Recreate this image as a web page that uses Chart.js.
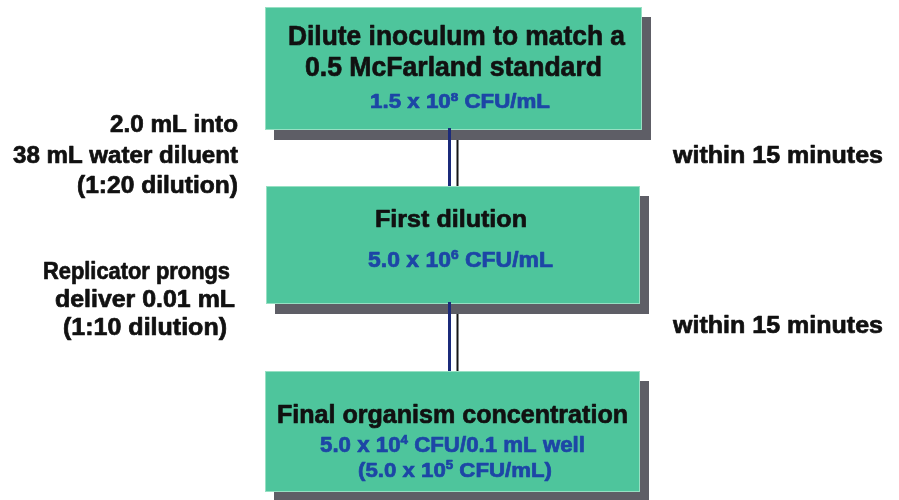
<!DOCTYPE html>
<html><head><meta charset="utf-8">
<script src="https://cdn.jsdelivr.net/npm/chart.js@4"></script>
<style>html,body{margin:0;padding:0;background:#fff}canvas{display:block}</style>
</head><body>
<div style="width:899px;height:500px"><canvas id="c" width="899" height="500"></canvas></div>
<script>
// ---- content ----
const boxTitles = [
  ["Dilute inoculum to match a", "0.5 McFarland standard"],
  ["First dilution"],
  ["Final organism concentration"]
];
const boxValues = [
  ["1.5 x 10^8 CFU/mL"],
  ["5.0 x 10^6 CFU/mL"],
  ["5.0 x 10^4 CFU/0.1 mL well", "(5.0 x 10^5 CFU/mL)"]
];
const stepNotes = [
  ["2.0 mL into", "38 mL water diluent", "(1:20 dilution)"],
  ["Replicator prongs", "deliver 0.01 mL", "(1:10 dilution)"]
];
const timeNotes = ["within 15 minutes", "within 15 minutes"];

// ---- layout (data units = pixels of an 899x500 frame) ----
const boxLayout = [
  {x0:265, x1:642, y0:7,   y1:130},
  {x0:266, x1:640, y0:186, y1:304},
  {x0:265, x1:640, y0:371, y1:492}
];
const shadow = {dx:9, dy:10};
// [left, right, baseline, capHeight]
const titleLayout = [
  [[288,625,45,20],[305,602,76,20]],
  [[375,527,227,17.5]],
  [[277,628,423,18.5]]
];
const valueLayout = [
  [[370,550,108,14]],
  [[368,553,267,15.5]],
  [[320,585,452,15.5],[358,552,477,15]]
];
const stepLayout = [
  [[110,238,132,16.5],[13,238,163,17],[77,238,193,16.5]],
  [[43,230,279,16.5],[55,235,307,16.5],[63,227,335,16.5]]
];
const timeLayout = [[673,883,163,17],[673,883,333,17]];
const connX = {blue:449.5, black:457.5};

const FONT = '"Liberation Sans", Arial, sans-serif';
const GREEN = '#4ec59c', SHADOW = '#5e5e66', BLUE = '#1d46a6', INK = '#111111';

function parse(s){
  const segs=[]; const re=/\^(\S)/g; let last=0, m;
  while((m=re.exec(s))){ if(m.index>last) segs.push({t:s.slice(last,m.index),sup:false}); segs.push({t:m[1],sup:true}); last=re.lastIndex; }
  if(last<s.length) segs.push({t:s.slice(last),sup:false});
  return segs;
}

function drawFitted(ctx, xs, ys, str, spec, color){
  const left = xs.getPixelForValue(spec[0]), right = xs.getPixelForValue(spec[1]);
  const base = ys.getPixelForValue(spec[2]);
  const size = spec[3]/0.716;
  const segs = parse(str);
  let w=0; const ws=[];
  segs.forEach(sg=>{ ctx.font=`bold ${sg.sup?size*0.6:size}px ${FONT}`; const ww=ctx.measureText(sg.t).width; ws.push(ww); w+=ww; });
  const sx=(right-left)/w;
  ctx.save(); ctx.translate(left, base); ctx.scale(sx,1);
  ctx.fillStyle=color; ctx.strokeStyle=color; ctx.lineWidth=0.7; ctx.lineJoin='round';
  ctx.textBaseline='alphabetic'; ctx.textAlign='left';
  let x=0;
  segs.forEach((sg,i)=>{ ctx.font=`bold ${sg.sup?size*0.6:size}px ${FONT}`; const yy = sg.sup? -size*0.36 : 0; ctx.fillText(sg.t, x, yy); ctx.strokeText(sg.t, x, yy); x+=ws[i]; });
  ctx.restore();
}

const flowPlugin = {
  id:'flow',
  beforeDatasetsDraw(chart){
    const {ctx, scales:{x:xs, y:ys}} = chart;
    ctx.save();
    boxLayout.forEach(b=>{
      const l=xs.getPixelForValue(b.x0), r=xs.getPixelForValue(b.x1);
      const t=ys.getPixelForValue(b.y0), bt=ys.getPixelForValue(b.y1);
      ctx.fillStyle=SHADOW;
      ctx.fillRect(l+shadow.dx, t+shadow.dy, r-l, bt-t);
      ctx.fillStyle=GREEN;
      ctx.fillRect(l, t, r-l, bt-t);
      ctx.strokeStyle='rgba(170,230,205,0.8)'; ctx.lineWidth=1;
      ctx.strokeRect(l+0.5, t+0.5, r-l-1, bt-t-1);
    });
    ctx.restore();
  },
  afterDatasetsDraw(chart){
    const {ctx, scales:{x:xs, y:ys}} = chart;
    boxTitles.forEach((lines,i)=>lines.forEach((s,j)=>drawFitted(ctx,xs,ys,s,titleLayout[i][j],INK)));
    boxValues.forEach((lines,i)=>lines.forEach((s,j)=>drawFitted(ctx,xs,ys,s,valueLayout[i][j],BLUE)));
    stepNotes.forEach((lines,i)=>lines.forEach((s,j)=>drawFitted(ctx,xs,ys,s,stepLayout[i][j],INK)));
    timeNotes.forEach((s,i)=>drawFitted(ctx,xs,ys,s,timeLayout[i],INK));
  }
};

const datasets=[];
for(let i=0;i<boxLayout.length-1;i++){
  const a=boxLayout[i], b=boxLayout[i+1];
  datasets.push({data:[{x:connX.blue,y:a.y1-2},{x:connX.blue,y:b.y0}], borderColor:'#1b2a7a', borderWidth:3, showLine:true, pointRadius:0, clip:false});
  datasets.push({data:[{x:connX.black,y:a.y1+shadow.dy},{x:connX.black,y:b.y0}], borderColor:'#151515', borderWidth:2, showLine:true, pointRadius:0, clip:false});
}

new Chart(document.getElementById('c'), {
  type:'scatter',
  data:{datasets},
  options:{
    responsive:false, animation:false, devicePixelRatio:1,
    layout:{padding:0},
    plugins:{legend:{display:false}, tooltip:{enabled:false}},
    scales:{
      x:{type:'linear', min:0, max:899, display:false},
      y:{type:'linear', min:0, max:500, reverse:true, display:false}
    }
  },
  plugins:[flowPlugin]
});
</script>
</body></html>
